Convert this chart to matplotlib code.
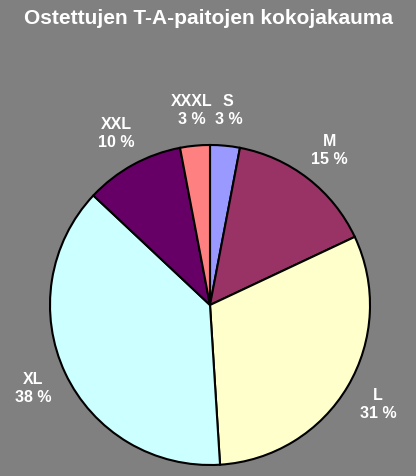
import matplotlib
matplotlib.use('Agg')
import matplotlib.pyplot as plt

# sizes of the ordered T-shirts (percent)
sizes = ['S', 'M', 'L', 'XL', 'XXL', 'XXXL']
shares = [3, 15, 31, 38, 10, 3]
colors = ['#9999FF', '#993366', '#FFFFCC', '#CCFFFF', '#660066', '#FF8080']

plt.rcParams['font.family'] = ['Liberation Sans', 'DejaVu Sans']

fig = plt.figure(figsize=(4.16, 4.76), dpi=100, facecolor='#808080')
ax = fig.add_axes([50 / 416, 11 / 476, 320 / 416, 320 / 476])
ax.set_facecolor('#808080')

total = sum(shares)
labels = [f'{s}\n{round(v * 100 / total)} %' for s, v in zip(sizes, shares)]

wedges, texts = ax.pie(shares, labels=labels, colors=colors, startangle=90,
                       counterclock=False, labeldistance=1.22,
                       wedgeprops=dict(edgecolor='black', linewidth=1.5),
                       textprops=dict(color='white', fontweight='bold', fontsize=11.5))
for t in texts:
    t.set_horizontalalignment('center')
    t.set_verticalalignment('center')
    t.set_linespacing(1.25)

ax.set_xlim(-1, 1)
ax.set_ylim(-1, 1)
ax.set_aspect('equal')
ax.axis('off')

fig.text(0.5, 1 - 19 / 476, 'Ostettujen T-A-paitojen kokojakauma', ha='center', va='center',
         color='white', fontweight='bold', fontsize=15)

fig.savefig('out.png', dpi=100, facecolor=fig.get_facecolor())
